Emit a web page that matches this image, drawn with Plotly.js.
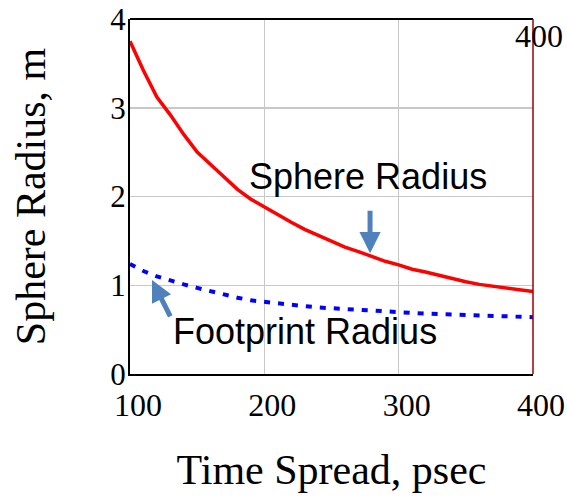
<!DOCTYPE html>
<html>
<head>
<meta charset="utf-8">
<script src="https://cdn.plot.ly/plotly-3.0.1.min.js"></script>
<style>html,body{margin:0;padding:0;background:#fff;}#chart{width:567px;height:499px;}</style>
</head>
<body>
<div id="chart"></div>
<script>
// Time spread (psec)
const sphereTime = [100,110,120,130,140,150,160,170,180,190,200,210,220,230,240,250,260,270,280,290,300,310,320,330,340,350,360,370,380,390,400];
const sphereRadius = [3.75,3.42,3.12,2.92,2.70,2.50,2.36,2.22,2.08,1.97,1.88,1.79,1.71,1.63,1.56,1.49,1.43,1.38,1.32,1.27,1.23,1.18,1.15,1.11,1.08,1.04,1.01,0.99,0.97,0.95,0.93];
const footTime = [100,110,120,130,140,150,160,170,180,190,200,220,240,260,280,300,320,340,360,380,400];
const footRadius = [1.24,1.16,1.10,1.05,1.01,0.97,0.93,0.89,0.86,0.83,0.81,0.78,0.75,0.73,0.71,0.69,0.68,0.67,0.66,0.65,0.64];
const xTicks = [100,200,300,400];
const yTicks = [0,1,2,3,4];

const serif = 'Liberation Serif, Times New Roman, serif';
const sans = 'Liberation Sans, Arial, sans-serif';
const arrowColor = '#4F81BD';

const traces = [
  {x: sphereTime, y: sphereRadius, type: 'scatter', mode: 'lines', name: 'Sphere Radius',
   line: {color: '#ff0000', width: 3.5}},
  {x: footTime, y: footRadius, type: 'scatter', mode: 'lines', name: 'Footprint Radius',
   line: {color: '#0000ff', width: 4, dash: '6px,8px'}}
];

const layout = {
  width: 567, height: 499,
  margin: {l: 130, r: 34, t: 19, b: 125},
  paper_bgcolor: '#fff', plot_bgcolor: '#fff',
  showlegend: false,
  xaxis: {
    range: [100, 400], tickvals: xTicks, ticktext: xTicks.map(String),
    showgrid: true, gridcolor: '#c8c8c8', gridwidth: 1.5, zeroline: false,
    showline: true, linecolor: '#000', linewidth: 2, mirror: false,
    ticks: '', tickfont: {family: serif, size: 32, color: '#000'},
    ticklabelshift: 8, ticklabelstandoff: 2, ticklabeloverflow: 'allow',
    title: {text: 'Time Spread, psec', font: {family: serif, size: 42, color: '#000'}, standoff: 32}
  },
  yaxis: {
    range: [0, 4], tickmode: 'array', tickvals: yTicks, ticktext: yTicks.map(String),
    showgrid: true, gridcolor: '#c8c8c8', gridwidth: 1.5, zeroline: false,
    showline: true, linecolor: '#000', linewidth: 2, mirror: false,
    ticks: '', tickfont: {family: serif, size: 31, color: '#000'},
    ticklabelstandoff: -4, ticklabeloverflow: 'allow',
    title: {text: 'Sphere Radius, m', font: {family: serif, size: 42, color: '#000'}, standoff: 52}
  },
  shapes: [
    {type: 'line', xref: 'paper', yref: 'paper', x0: 0, x1: 1, y0: 1, y1: 1,
     line: {color: '#000', width: 2}, layer: 'above'},
    {type: 'line', xref: 'paper', yref: 'paper', x0: 1, x1: 1, y0: 0, y1: 1,
     line: {color: '#a00000', width: 1.5}, layer: 'above'}
  ],
  annotations: [
    {x: 277, y: 2.22, xref: 'x', yref: 'y', text: 'Sphere Radius', showarrow: false,
     font: {family: sans, size: 36, color: '#000'}},
    {x: 230, y: 0.48, xref: 'x', yref: 'y', text: 'Footprint Radius', showarrow: false,
     font: {family: sans, size: 36, color: '#000'}},
    {x: 278.7, y: 1.36, xref: 'x', yref: 'y', text: '', showarrow: true,
     ax: 0, ay: -44, arrowhead: 2, arrowsize: 0.85, arrowwidth: 5, arrowcolor: arrowColor},
    {x: 116.4, y: 1.06, xref: 'x', yref: 'y', text: '', showarrow: true,
     ax: 19, ay: 38, arrowhead: 2, arrowsize: 0.85, arrowwidth: 5, arrowcolor: arrowColor},
    {x: 1, y: 1, xref: 'paper', yref: 'paper', xanchor: 'center', yanchor: 'top', xshift: 6, yshift: 3,
     text: '400', showarrow: false, font: {family: serif, size: 32, color: '#000'}}
  ]
};

Plotly.newPlot('chart', traces, layout, {displayModeBar: false, staticPlot: true});
</script>
</body>
</html>
